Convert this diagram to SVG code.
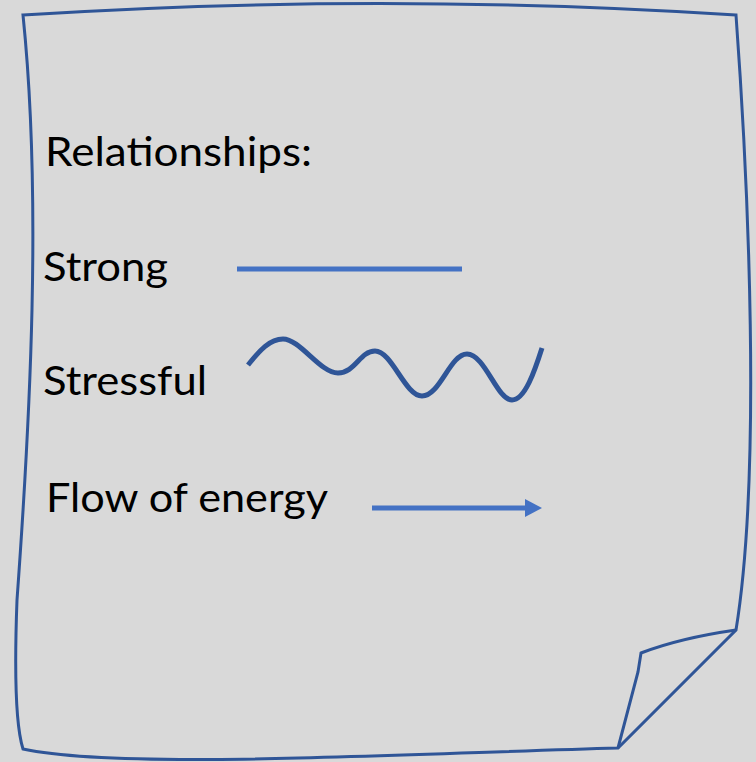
<svg xmlns="http://www.w3.org/2000/svg" width="756" height="762" viewBox="0 0 756 762">
  <defs>
    <style>
      .outline { fill: none; stroke: #2F5597; stroke-width: 3; stroke-linejoin: miter; }
      .label { font-family: Lato, "Open Sans", "Liberation Sans", sans-serif; font-size: 41px; fill: #000000; }
      .strong { stroke: #4472C4; stroke-width: 5; fill: none; }
      .stress { stroke: #2F5597; stroke-width: 5; fill: none; stroke-linecap: butt; }
      .flow { stroke: #4472C4; stroke-width: 5; fill: none; }
    </style>
    <marker id="arrow" markerWidth="17" markerHeight="18" refX="0" refY="9" orient="auto" markerUnits="userSpaceOnUse">
      <path d="M0,0 L17,9 L0,18 Z" fill="#4472C4"/>
    </marker>
  </defs>
  <rect x="0" y="0" width="756" height="762" fill="#D9D9D9"/>
  <g id="paper">
    <path class="outline" d="M23,15 Q380,-8 736,15 C748,180 762,470 736,630 L618,748 C400,754 120,770 23,749 C17,730 14,680 17,600 C30,420 42,200 23,15 Z"/>
    <path class="outline" d="M736,630 Q680,638 641,653 L638,672 L618,748"/>
  </g>
  <g id="title">
    <text class="label" x="45" y="166" textLength="267" lengthAdjust="spacingAndGlyphs">Relationships:</text>
  </g>
  <g id="strong-item">
    <text class="label" x="43" y="281" textLength="125" lengthAdjust="spacingAndGlyphs">Strong</text>
  </g>
  <g id="stressful-item">
    <text class="label" x="43" y="395" textLength="164" lengthAdjust="spacingAndGlyphs">Stressful</text>
  </g>
  <g id="flow-item">
    <text class="label" x="46" y="512" textLength="282" lengthAdjust="spacingAndGlyphs">Flow of energy</text>
  </g>
  <g id="connectors">
    <line class="strong" x1="237" y1="269" x2="462" y2="269"/>
    <path class="stress" d="M248,365 C260,350 270,339 283,339 C300,339 320,373 338,373 C355,373 360,351 375,351 C392,351 405,396 422,396 C440,396 450,354 467,354 C485,354 497,400 512,400 C525,400 535,370 542,348"/>
    <line class="flow" x1="372" y1="508" x2="525" y2="508" marker-end="url(#arrow)"/>
  </g>
</svg>
